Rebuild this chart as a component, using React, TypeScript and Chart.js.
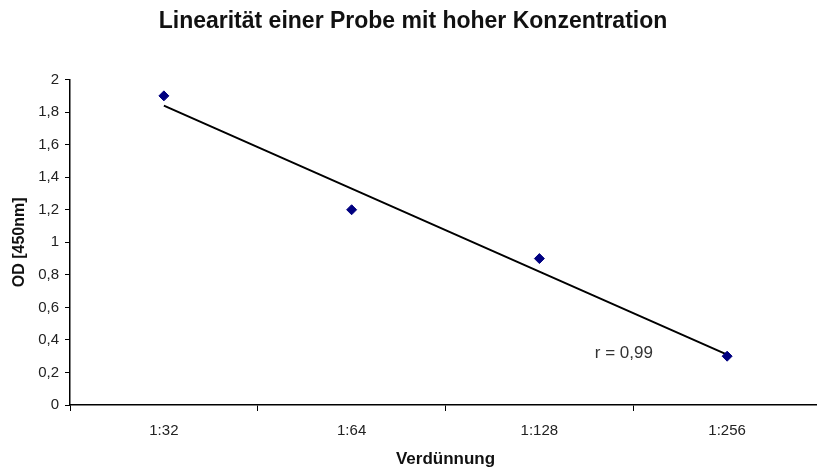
import React, { useEffect, useRef } from 'react';
import { Chart, registerables } from 'chart.js';

Chart.register(...registerables);

// ---- data ----
const categories = ['1:32', '1:64', '1:128', '1:256'];
const odValues = [1.9, 1.2, 0.9, 0.3];
const yMin = 0;
const yMax = 2;
const yStep = 0.2;
const chartTitle = 'Linearität einer Probe mit hoher Konzentration';
const xAxisTitle = 'Verdünnung';
const yAxisTitle = 'OD [450nm]';
const rLabel = 'r = 0,99';
const rLabelAt = [2.45, 0.32]; // category index, OD value

const FONT = '"Liberation Sans", Arial, Helvetica, sans-serif';
const CANVAS_W = 827;
const CANVAS_H = 470;

function linearTrend(values: number[]): number[] {
  const n = values.length;
  const xs = values.map((_, i) => i);
  const mx = xs.reduce((a, b) => a + b, 0) / n;
  const my = values.reduce((a, b) => a + b, 0) / n;
  let num = 0;
  let den = 0;
  xs.forEach((x, i) => {
    num += (x - mx) * (values[i] - my);
    den += (x - mx) * (x - mx);
  });
  const slope = num / den;
  const intercept = my - slope * mx;
  return xs.map((x) => intercept + slope * x);
}

const rLabelPlugin = {
  id: 'rLabelPlugin',
  afterDatasetsDraw(chart: any) {
    const { ctx, scales } = chart;
    const x = scales.x.getPixelForValue(rLabelAt[0]);
    const y = scales.y.getPixelForValue(rLabelAt[1]);
    ctx.save();
    ctx.font = `17px ${FONT}`;
    ctx.fillStyle = '#333333';
    ctx.textAlign = 'center';
    ctx.textBaseline = 'middle';
    ctx.fillText(rLabel, x, y);
    ctx.restore();
  },
};

export default function App() {
  const canvasRef = useRef<HTMLCanvasElement | null>(null);

  useEffect(() => {
    if (!canvasRef.current) return;
    const trend = linearTrend(odValues);
    const chart = new Chart(canvasRef.current, {
      type: 'line',
      data: {
        labels: categories,
        datasets: [
          {
            label: 'Trend',
            data: trend,
            borderColor: '#000000',
            borderWidth: 2,
            pointRadius: 0,
            fill: false,
            order: 2,
          },
          {
            label: 'OD',
            data: odValues,
            showLine: false,
            pointStyle: 'rectRot',
            pointRadius: 5,
            backgroundColor: '#000080',
            borderColor: '#000080',
            borderWidth: 1,
            order: 1,
          },
        ],
      },
      options: {
        animation: false,
        responsive: false,
        maintainAspectRatio: false,
        devicePixelRatio: 1,
        layout: { padding: { left: 0, right: 1, top: 0, bottom: 0 } },
        plugins: {
          legend: { display: false },
          tooltip: { enabled: false },
          title: {
            display: true,
            text: chartTitle,
            color: '#111111',
            font: { family: FONT, size: 23, weight: 'bold' },
            padding: { top: 8, bottom: 44 },
          },
        },
        scales: {
          x: {
            type: 'category',
            offset: true,
            grid: {
              offset: true,
              drawOnChartArea: false,
              drawTicks: true,
              tickLength: 6,
              color: '#000000',
              lineWidth: 1,
            },
            border: { display: true, color: '#000000', width: 1.5 },
            ticks: {
              color: '#222222',
              font: { family: FONT, size: 15 },
              padding: 11,
              maxRotation: 0,
            },
            title: {
              display: true,
              text: xAxisTitle,
              color: '#111111',
              font: { family: FONT, size: 17, weight: 'bold' },
              padding: { top: 8, bottom: 0 },
            },
            afterFit(scale: any) {
              scale.height = 65;
            },
          },
          y: {
            min: yMin,
            max: yMax,
            ticks: {
              stepSize: yStep,
              color: '#222222',
              font: { family: FONT, size: 15 },
              padding: 6,
              callback: (v: any) => String(Number(Number(v).toFixed(1))).replace('.', ','),
            },
            grid: {
              drawOnChartArea: false,
              drawTicks: true,
              tickLength: 5,
              color: '#000000',
            },
            border: { display: true, color: '#000000', width: 1.5 },
            title: {
              display: true,
              text: yAxisTitle,
              color: '#111111',
              font: { family: FONT, size: 16, weight: 'bold' },
              padding: { top: 10, bottom: 0 },
            },
            afterFit(scale: any) {
              scale.width = 70;
            },
          },
        },
      },
      plugins: [rLabelPlugin],
    });
    return () => chart.destroy();
  }, []);

  return (
    <div
      style={{
        position: 'fixed',
        left: 0,
        top: 0,
        width: 817,
        height: 470,
        overflow: 'hidden',
        background: '#ffffff',
      }}
    >
      <canvas
        ref={canvasRef}
        width={CANVAS_W}
        height={CANVAS_H}
        style={{ display: 'block', width: CANVAS_W, height: CANVAS_H }}
      />
    </div>
  );
}
